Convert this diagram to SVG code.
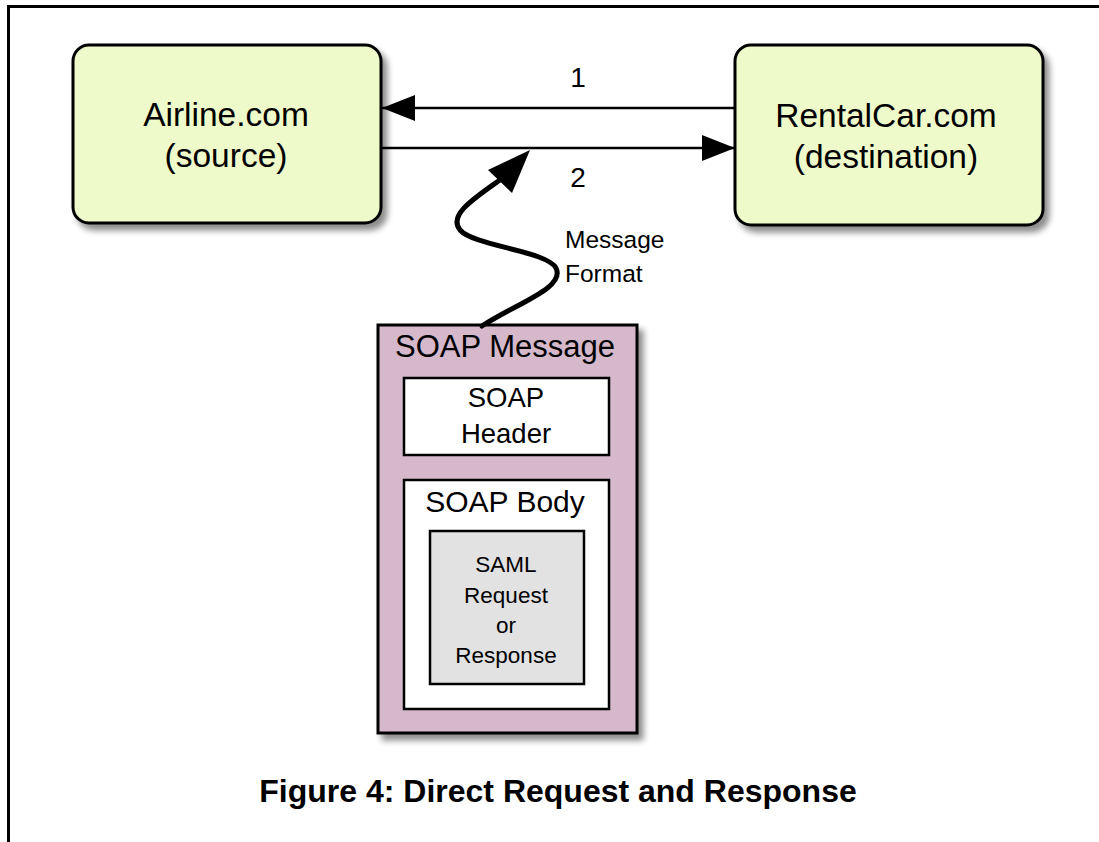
<svg xmlns="http://www.w3.org/2000/svg" width="1099" height="842" viewBox="0 0 1099 842">
  <style>
    .lbl { font-family: "Liberation Sans", Arial, sans-serif; fill: #000; text-anchor: middle; }
    .site { fill: #EFFACB; stroke: #000; stroke-width: 3; }
    .box { stroke: #000; stroke-width: 2.5; }
    .wire { fill: none; stroke: #000; stroke-width: 2.5; }
  </style>
  <defs>
    <filter id="drop" x="-10%" y="-10%" width="130%" height="130%">
      <feGaussianBlur in="SourceAlpha" stdDeviation="3"/>
      <feOffset dx="5" dy="6" result="b"/>
      <feComponentTransfer><feFuncA type="linear" slope="0.45"/></feComponentTransfer>
      <feMerge><feMergeNode/><feMergeNode in="SourceGraphic"/></feMerge>
    </filter>
    <marker id="head" viewBox="0 0 33 26" refX="33" refY="13" markerWidth="33" markerHeight="26" markerUnits="userSpaceOnUse" orient="auto">
      <path d="M0,0 L33,13 L0,26 Z" fill="#000"/>
    </marker>
  </defs>

  <rect width="1099" height="842" fill="#fff"/>
  <!-- page frame -->
  <path d="M8.5,842 V6.5 H1099" fill="none" stroke="#000" stroke-width="3"/>

  <g id="airline">
    <rect class="site" x="73" y="45" width="308" height="178" rx="16" filter="url(#drop)"/>
    <text class="lbl" x="226" y="126" font-size="33.5">Airline.com</text>
    <text class="lbl" x="226" y="167" font-size="33.5">(source)</text>
  </g>

  <g id="rentalcar">
    <rect class="site" x="735" y="45" width="308" height="180" rx="16" filter="url(#drop)"/>
    <text class="lbl" x="886" y="127" font-size="33.5">RentalCar.com</text>
    <text class="lbl" x="886" y="168" font-size="33.5">(destination)</text>
  </g>

  <g id="soap-message">
    <rect x="378" y="325" width="259" height="408" fill="#D5B9CB" stroke="#000" stroke-width="3" filter="url(#drop)"/>
    <text class="lbl" x="505" y="357" font-size="31">SOAP Message</text>
    <g id="soap-header">
      <rect class="box" x="404" y="378" width="205" height="77" fill="#fff"/>
      <text class="lbl" x="506" y="407" font-size="27.5">SOAP</text>
      <text class="lbl" x="506" y="443" font-size="27.5">Header</text>
    </g>
    <g id="soap-body">
      <rect class="box" x="404" y="480" width="205" height="229" fill="#fff"/>
      <text class="lbl" x="505" y="512" font-size="30">SOAP Body</text>
      <g id="saml">
        <rect class="box" x="430" y="531" width="154" height="153" fill="#E2E2E2"/>
        <text class="lbl" x="506" y="572" font-size="22.5">SAML</text>
        <text class="lbl" x="506" y="603" font-size="22.5">Request</text>
        <text class="lbl" x="506" y="633" font-size="22.5">or</text>
        <text class="lbl" x="506" y="663" font-size="22.5">Response</text>
      </g>
    </g>
  </g>

  <g id="connectors">
    <line class="wire" x1="735" y1="108" x2="382" y2="108" marker-end="url(#head)"/>
    <line class="wire" x1="381" y1="148" x2="735" y2="148" marker-end="url(#head)"/>
    <text class="lbl" x="578" y="87" font-size="28">1</text>
    <text class="lbl" x="578" y="187" font-size="28">2</text>
    <!-- format arrow from the SOAP message up to message 2 -->
    <path d="M482,326 C515,304 566,288 556,268 C547,251 474,246 460,230 C447,214 478,196 504,177" fill="none" stroke="#000" stroke-width="5" stroke-linecap="round"/>
    <path d="M530,150 L488,170 L512,193 Z" fill="#000"/>
    <text class="lbl" x="565" y="248" font-size="24.5" style="text-anchor:start">Message</text>
    <text class="lbl" x="565" y="282" font-size="24.5" style="text-anchor:start">Format</text>
  </g>

  <text class="lbl" x="558" y="802" font-size="32" font-weight="bold">Figure 4: Direct Request and Response</text>
</svg>
